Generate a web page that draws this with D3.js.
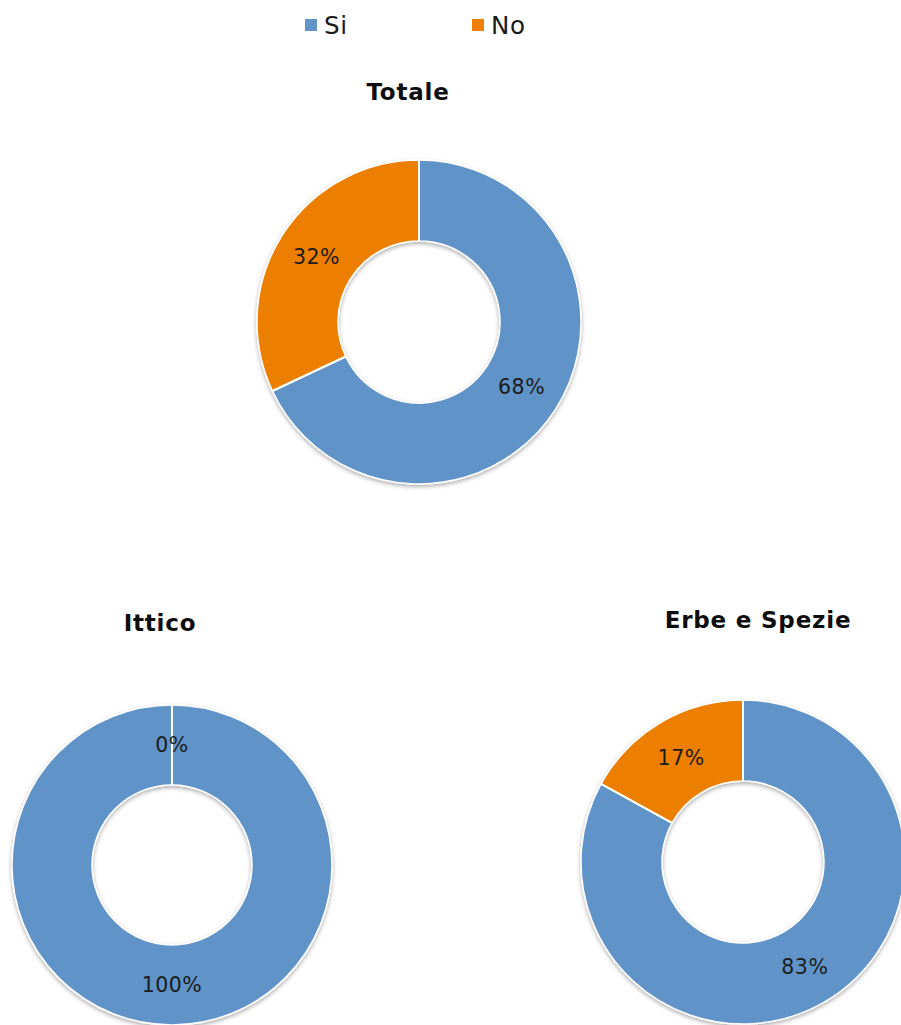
<!DOCTYPE html>
<html>
<head>
<meta charset="utf-8">
<script src="https://cdn.jsdelivr.net/npm/d3@7/dist/d3.min.js"></script>
<style>
  html, body { margin: 0; padding: 0; background: #ffffff; }
  svg { display: block; }
  text { font-family: "DejaVu Sans", "Noto Sans", sans-serif; }
</style>
</head>
<body>
<svg id="chart" width="901" height="1025"></svg>
<script>
// Answer categories and per-chart percentages
const categories = ["Si", "No"];
const chartTitles = ["Totale", "Ittico", "Erbe e Spezie"];
const siValues = [68, 100, 83];
const noValues = [32, 0, 17];
const seriesColors = ["#6194c8", "#ec7f04"];

// Layout of the three donuts (centre, radius, title anchor)
const panels = [
  { cx: 419, cy: 322, r: 162, tx: 408, ty: 100 },
  { cx: 172, cy: 865, r: 160, tx: 160, ty: 631 },
  { cx: 743, cy: 862, r: 162, tx: 758, ty: 628 }
];

const svg = d3.select("#chart");
const defs = svg.append("defs");
const shadow = defs.append("filter")
  .attr("id", "ringShadow")
  .attr("x", "-10%").attr("y", "-10%")
  .attr("width", "120%").attr("height", "125%");
shadow.append("feDropShadow")
  .attr("dx", 0).attr("dy", 2)
  .attr("stdDeviation", 2)
  .attr("flood-color", "#000")
  .attr("flood-opacity", 0.32);

const color = d3.scaleOrdinal().domain(categories).range(seriesColors);

// Legend
const legendX = d3.scalePoint().domain(categories).range([305, 472]);
const legend = svg.append("g").attr("class", "legend");
const items = legend.selectAll("g").data(categories).join("g")
  .attr("transform", d => `translate(${legendX(d)},0)`);
items.append("rect")
  .attr("x", 0).attr("y", 19).attr("width", 12).attr("height", 12)
  .attr("fill", d => color(d));
items.append("text")
  .attr("x", 19).attr("y", 34)
  .attr("font-size", 24.5)
  .attr("letter-spacing", 0.6)
  .attr("fill", "#1a1a1a")
  .text(d => d);

const pie = d3.pie().sort(null).value(d => d.value);

chartTitles.forEach((title, i) => {
  const p = panels[i];
  const data = categories.map((c, k) => ({
    category: c,
    value: k === 0 ? siValues[i] : noValues[i]
  }));
  const arcs = pie(data);
  const outerR = p.r;
  const innerR = p.r * 0.5;
  const arc = d3.arc().innerRadius(innerR).outerRadius(outerR);
  const labelArc = d3.arc().innerRadius((innerR + outerR) / 2).outerRadius((innerR + outerR) / 2);

  svg.append("text")
    .attr("x", p.tx).attr("y", p.ty)
    .attr("text-anchor", "middle")
    .attr("font-size", 23)
    .attr("letter-spacing", 0.8)
    .attr("font-weight", "bold")
    .attr("fill", "#0d0d0d")
    .text(title);

  const g = svg.append("g").attr("transform", `translate(${p.cx},${p.cy})`);
  const ring = g.append("g").attr("filter", "url(#ringShadow)");
  ring.selectAll("path").data(arcs).join("path")
    .attr("d", arc)
    .attr("fill", d => color(d.data.category))
    .attr("stroke", "#ffffff")
    .attr("stroke-width", 1.5);

  // white separators at each slice boundary
  g.selectAll("line.sep").data(arcs).join("line")
    .attr("class", "sep")
    .attr("x1", d => innerR * Math.sin(d.startAngle))
    .attr("y1", d => -innerR * Math.cos(d.startAngle))
    .attr("x2", d => outerR * Math.sin(d.startAngle))
    .attr("y2", d => -outerR * Math.cos(d.startAngle))
    .attr("stroke", "#ffffff")
    .attr("stroke-width", 2);

  g.selectAll("text.lbl").data(arcs).join("text")
    .attr("class", "lbl")
    .attr("transform", d => `translate(${labelArc.centroid(d)})`)
    .attr("text-anchor", "middle")
    .attr("dy", "0.36em")
    .attr("font-size", 20.5)
    .attr("letter-spacing", 0.5)
    .attr("fill", "#1c1c1c")
    .text(d => d.data.value + "%");
});
</script>
</body>
</html>
